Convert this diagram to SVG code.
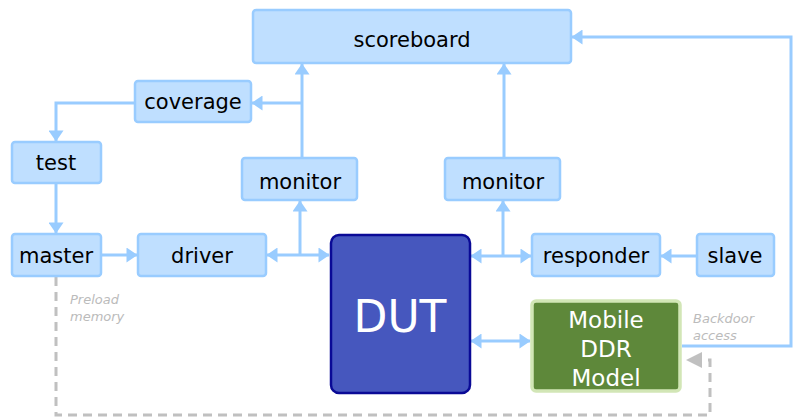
<svg xmlns="http://www.w3.org/2000/svg" width="797" height="418" viewBox="0 0 797 418">
<style>
.n rect{fill:#BFDFFF;stroke:#99CCFF;stroke-width:2.5}
.t{font-family:"DejaVu Sans",Verdana,sans-serif;font-size:21px;fill:#000;text-anchor:middle}
.c{fill:none;stroke:#99CCFF;stroke-width:3}
.d{fill:none;stroke:#C0C0C0;stroke-width:3;stroke-dasharray:9,6}
.l{font-family:"DejaVu Sans",Verdana,sans-serif;font-size:13px;font-style:italic;fill:#BBBBBB}
.w{font-family:"DejaVu Sans",Verdana,sans-serif;fill:#fff;text-anchor:middle}
</style>
<defs>
<marker id="a" viewBox="0 0 11 15" refX="10.5" refY="7.5" markerWidth="3.7" markerHeight="5" orient="auto-start-reverse" markerUnits="strokeWidth"><path d="M0,0L11,7.5L0,15z" fill="#99CCFF"/></marker>
</defs>
<g id="connectors">
<path class="c" d="M302,157V64" marker-end="url(#a)"/>
<path class="c" d="M302,103H252" marker-end="url(#a)"/>
<path class="c" d="M135,103H56V141" marker-end="url(#a)"/>
<path class="c" d="M56,183V233" marker-end="url(#a)"/>
<path class="c" d="M101,255H137" marker-end="url(#a)"/>
<path class="c" d="M267,255H329" marker-start="url(#a)" marker-end="url(#a)"/>
<path class="c" d="M300,255V201" marker-end="url(#a)"/>
<path class="c" d="M504,157V64" marker-end="url(#a)"/>
<path class="c" d="M471,256H531" marker-start="url(#a)" marker-end="url(#a)"/>
<path class="c" d="M503,256V201" marker-end="url(#a)"/>
<path class="c" d="M697,256H661" marker-end="url(#a)"/>
<path class="c" d="M471,341H530" marker-start="url(#a)" marker-end="url(#a)"/>
<path class="c" d="M682,346H791V37H572" marker-end="url(#a)"/>
<path class="d" d="M56,277V415H710V360H702"/>
<path d="M686,360L702,352V368z" fill="#C0C0C0"/>
</g>
<g id="scoreboard" class="n"><rect x="253" y="10" width="318" height="53" rx="3"/><text class="t" x="412" y="47">scoreboard</text></g>
<g id="coverage" class="n"><rect x="135" y="81" width="116" height="41" rx="3"/><text class="t" x="193" y="109">coverage</text></g>
<g id="test" class="n"><rect x="12" y="142" width="89" height="41" rx="3"/><text class="t" x="56" y="170">test</text></g>
<g id="monitor1" class="n"><rect x="242" y="158" width="115" height="42" rx="3"/><text class="t" x="300" y="189">monitor</text></g>
<g id="monitor2" class="n"><rect x="445" y="158" width="115" height="42" rx="3"/><text class="t" x="503" y="189">monitor</text></g>
<g id="master" class="n"><rect x="12" y="234" width="89" height="42" rx="3"/><text class="t" x="56" y="263">master</text></g>
<g id="driver" class="n"><rect x="138" y="234" width="128" height="42" rx="3"/><text class="t" x="202" y="263">driver</text></g>
<g id="responder" class="n"><rect x="532" y="234" width="128" height="42" rx="3"/><text class="t" x="596" y="263">responder</text></g>
<g id="slave" class="n"><rect x="697" y="234" width="77" height="42" rx="3"/><text class="t" x="735" y="263">slave</text></g>
<g id="dut"><rect x="331" y="235" width="139" height="158" rx="8" fill="#4657BE" stroke="#0A0A96" stroke-width="2.5"/><text class="w" x="400" y="332" font-size="44">DUT</text></g>
<g id="mobileddr"><rect x="532" y="301" width="148" height="90" rx="4" fill="#5E883A" stroke="#D2E6B6" stroke-width="3.5"/>
<text class="w" font-size="23"><tspan x="606" y="328">Mobile</tspan><tspan x="606" y="357">DDR</tspan><tspan x="606" y="386">Model</tspan></text></g>
<text class="l"><tspan x="70" y="304">Preload</tspan><tspan x="70" y="321">memory</tspan></text>
<text class="l"><tspan x="693" y="323">Backdoor</tspan><tspan x="693" y="340">access</tspan></text>
</svg>
